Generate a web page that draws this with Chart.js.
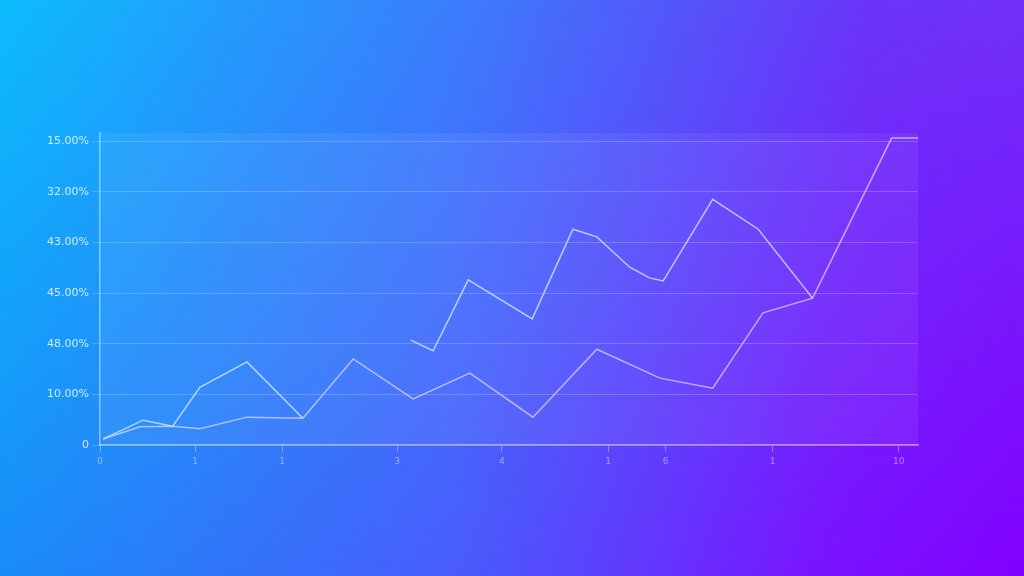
<!DOCTYPE html>
<html>
<head>
<meta charset="utf-8">
<script src="https://cdn.jsdelivr.net/npm/chart.js@4"></script>
<style>
  html, body { margin: 0; padding: 0; width: 1024px; height: 576px; overflow: hidden; }
  body { position: relative; background: linear-gradient(to right, #1a8cf8 0%, #4a5cfc 45%, #7a14ff 80%, #8200ff 100%); }
  body::before { content: ""; position: absolute; inset: 0;
    background: linear-gradient(to right, #0cbcfc 0%, #3c7cfc 45%, #6a34f8 85%, #7030f8 100%);
    -webkit-mask-image: linear-gradient(to bottom, #000 0%, rgba(0,0,0,0.5) 50%, transparent 100%);
    mask-image: linear-gradient(to bottom, #000 0%, rgba(0,0,0,0.5) 50%, transparent 100%); }
  #wrap { position: absolute; left: 0; top: 0; width: 1024px; height: 576px; }
</style>
</head>
<body>
<div id="wrap"><canvas id="c" width="1024" height="576"></canvas></div>
<script>
// Tick labels as printed in the reference
const yTickLabels = ["0", "10.00%", "48.00%", "45.00%", "43.00%", "32.00%", "15.00%"];
const xTickValues = [0, 1.19, 2.28, 3.72, 5.03, 6.36, 7.08, 8.42, 10];
const xTickLabels = ["0", "1", "1", "3", "4", "1", "6", "1", "10"];

// Series A (lower, continuous)
const seriesAX = [0.04, 0.50, 0.91, 1.25, 1.84, 2.54, 3.17, 3.92, 4.63, 5.42, 6.22, 7.01, 7.67, 8.30, 8.92, 9.91, 10.24];
const seriesAY = [0.12, 0.36, 0.37, 0.32, 0.55, 0.53, 1.70, 0.91, 1.42, 0.55, 1.89, 1.32, 1.12, 2.61, 2.90, 6.06, 6.06];

// Series B (upper, with a gap)
const seriesBX = [0.04, 0.54, 0.91, 1.25, 1.84, 2.54, 3.2, 3.89, 4.17, 4.61, 5.41, 5.92, 6.22, 6.63, 6.88, 7.05, 7.67, 8.24, 8.92];
const seriesBY = [0.12, 0.49, 0.37, 1.14, 1.64, 0.53, null, 2.07, 1.86, 3.26, 2.49, 4.26, 4.11, 3.51, 3.30, 3.24, 4.85, 4.26, 2.90];

const toPoints = (xs, ys) => xs.map((x, i) => ({ x: x, y: ys[i] }));

const plotBg = {
  id: 'plotBg',
  beforeDraw(chart) {
    const { ctx, chartArea: a } = chart;
    ctx.save();
    ctx.fillStyle = 'rgba(255,255,255,0.06)';
    ctx.fillRect(a.left, a.top, a.right - a.left, a.bottom - a.top);
    ctx.restore();
  }
};

new Chart(document.getElementById('c'), {
  type: 'line',
  data: {
    datasets: [
      { data: toPoints(seriesAX, seriesAY), borderColor: 'rgba(225,220,255,0.7)', borderWidth: 1.5, pointRadius: 0, tension: 0, spanGaps: false },
      { data: toPoints(seriesBX, seriesBY), borderColor: 'rgba(215,240,255,0.75)', borderWidth: 1.5, pointRadius: 0, tension: 0, spanGaps: false }
    ]
  },
  options: {
    responsive: false,
    animation: false,
    layout: { padding: { left: 0, top: 133, right: 106, bottom: 0 } },
    plugins: { legend: { display: false }, tooltip: { enabled: false } },
    scales: {
      x: {
        type: 'linear', min: 0, max: 10.24,
        afterBuildTicks(scale) { scale.ticks = xTickValues.map(v => ({ value: v })); },
        afterFit(scale) { scale.height = 131; },
        ticks: {
          autoSkip: false, maxRotation: 0,
          callback(value, index) { return xTickLabels[index]; },
          color: 'rgba(255,255,255,0.45)', font: { family: 'DejaVu Sans', size: 9 }, padding: 4
        },
        grid: { display: true, drawOnChartArea: false, drawTicks: true, tickLength: 7, color: 'rgba(255,255,255,0.35)' },
        border: { display: true, color: 'rgba(255,255,255,0.45)', width: 1.5 }
      },
      y: {
        type: 'linear', min: 0, max: 6.16,
        afterBuildTicks(scale) { scale.ticks = yTickLabels.map((_, i) => ({ value: i })); },
        afterFit(scale) { scale.width = 100; },
        ticks: {
          autoSkip: false,
          callback(value, index) { return yTickLabels[index]; },
          color: 'rgba(225,245,255,0.9)', font: { family: 'DejaVu Sans', size: 11 }, padding: 3
        },
        grid: { color: 'rgba(255,255,255,0.2)', tickLength: 8, lineWidth: 1 },
        border: { display: true, color: 'rgba(255,255,255,0.45)', width: 1.5 }
      }
    }
  },
  plugins: [plotBg]
});
</script>
</body>
</html>
